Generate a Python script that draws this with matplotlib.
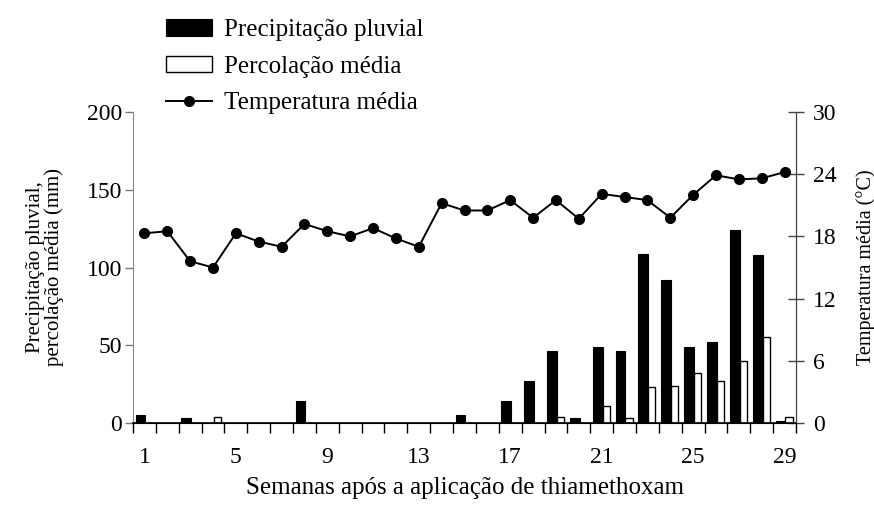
import numpy as np
import matplotlib.pyplot as plt

plt.rcParams['font.family'] = ['Liberation Serif', 'DejaVu Serif']

semanas = np.arange(1, 30)
# precipitação pluvial semanal (mm)
precip = [5, 0, 3, 0, 0, 0, 0, 14, 0, 0, 0, 0, 0, 0, 5, 0, 14, 27, 46, 3,
          49, 46, 109, 92, 49, 52, 124, 108, 1]
# percolação média semanal (mm)
percol = [0, 0, 0, 4, 0, 0, 0, 0, 0, 0, 0, 0, 0, 0, 0, 0, 0, 0, 4, 0,
          11, 3, 23, 24, 32, 27, 40, 55, 4]
# temperatura média semanal (°C)
temp = [18.3, 18.5, 15.6, 15.0, 18.3, 17.5, 17.0, 19.2, 18.5, 18.0, 18.8, 17.8,
        17.0, 21.2, 20.5, 20.5, 21.5, 19.8, 21.5, 19.7, 22.1, 21.8, 21.5, 19.8,
        22.0, 23.9, 23.5, 23.6, 24.2]
xticks_lab = [1, 5, 9, 13, 17, 21, 25, 29]

fig = plt.figure(figsize=(8.74, 5.15), dpi=100)
ax = fig.add_axes([133/874, 92/515, 663/874, 311/515])
ax2 = ax.twinx()

ax.bar(semanas - 0.39, precip, width=0.43, align='edge', color='black',
       edgecolor='black', linewidth=0.8, label='Precipitação pluvial')
ax.bar(semanas + 0.04, percol, width=0.31, align='edge', color='white',
       edgecolor='black', linewidth=1.0, label='Percolação média')
ax2.plot(semanas, temp, color='black', lw=1.4, marker='o', ms=7,
         label='Temperatura média')

ax.set_xlim(0.5, 29.5)
ax.set_ylim(0, 200)
ax2.set_ylim(0, 30)
ax.set_yticks([0, 50, 100, 150, 200])
ax2.set_yticks([0, 6, 12, 18, 24, 30])

# ticks de categoria entre as semanas, rótulos no centro
ax.set_xticks(np.arange(0.5, 30.5, 1))
ax.set_xticklabels([])
ax.set_xticks(xticks_lab, minor=True)
ax.set_xticklabels([str(v) for v in xticks_lab], minor=True)
ax.tick_params(axis='x', which='major', direction='out', length=7, width=1)
ax.tick_params(axis='x', which='minor', length=0, pad=17, labelsize=17)
ax.tick_params(axis='y', direction='out', length=6, width=1, labelsize=17,
               color='#777777', pad=2)
ax2.tick_params(axis='y', direction='inout', length=12, width=1, labelsize=17,
                color='#444444', pad=6)

for a in (ax, ax2):
    a.spines['top'].set_visible(False)
ax.spines['left'].set_color('#888888')
ax2.spines['left'].set_visible(False)
ax2.spines['right'].set_color('#444444')
ax.spines['bottom'].set_linewidth(1.2)

ax.set_ylabel('Precipitação pluvial,\npercolação média (mm)', fontsize=15,
              labelpad=16, linespacing=1.0)
ax2.set_ylabel('Temperatura média (°C)', fontsize=14.5, labelpad=14)
ax.set_xlabel('Semanas após a aplicação de thiamethoxam', fontsize=18,
              labelpad=7)

h1, l1 = ax.get_legend_handles_labels()
h2, l2 = ax2.get_legend_handles_labels()
fig.legend(h1 + h2, l1 + l2, loc='upper left', bbox_to_anchor=(166/874, 1 - 19/515),
           frameon=False, fontsize=18, handlelength=1.85, handleheight=0.65,
           labelspacing=0.58, handletextpad=0.45, borderaxespad=0,
           borderpad=0)

fig.savefig('out.png', dpi=100)
